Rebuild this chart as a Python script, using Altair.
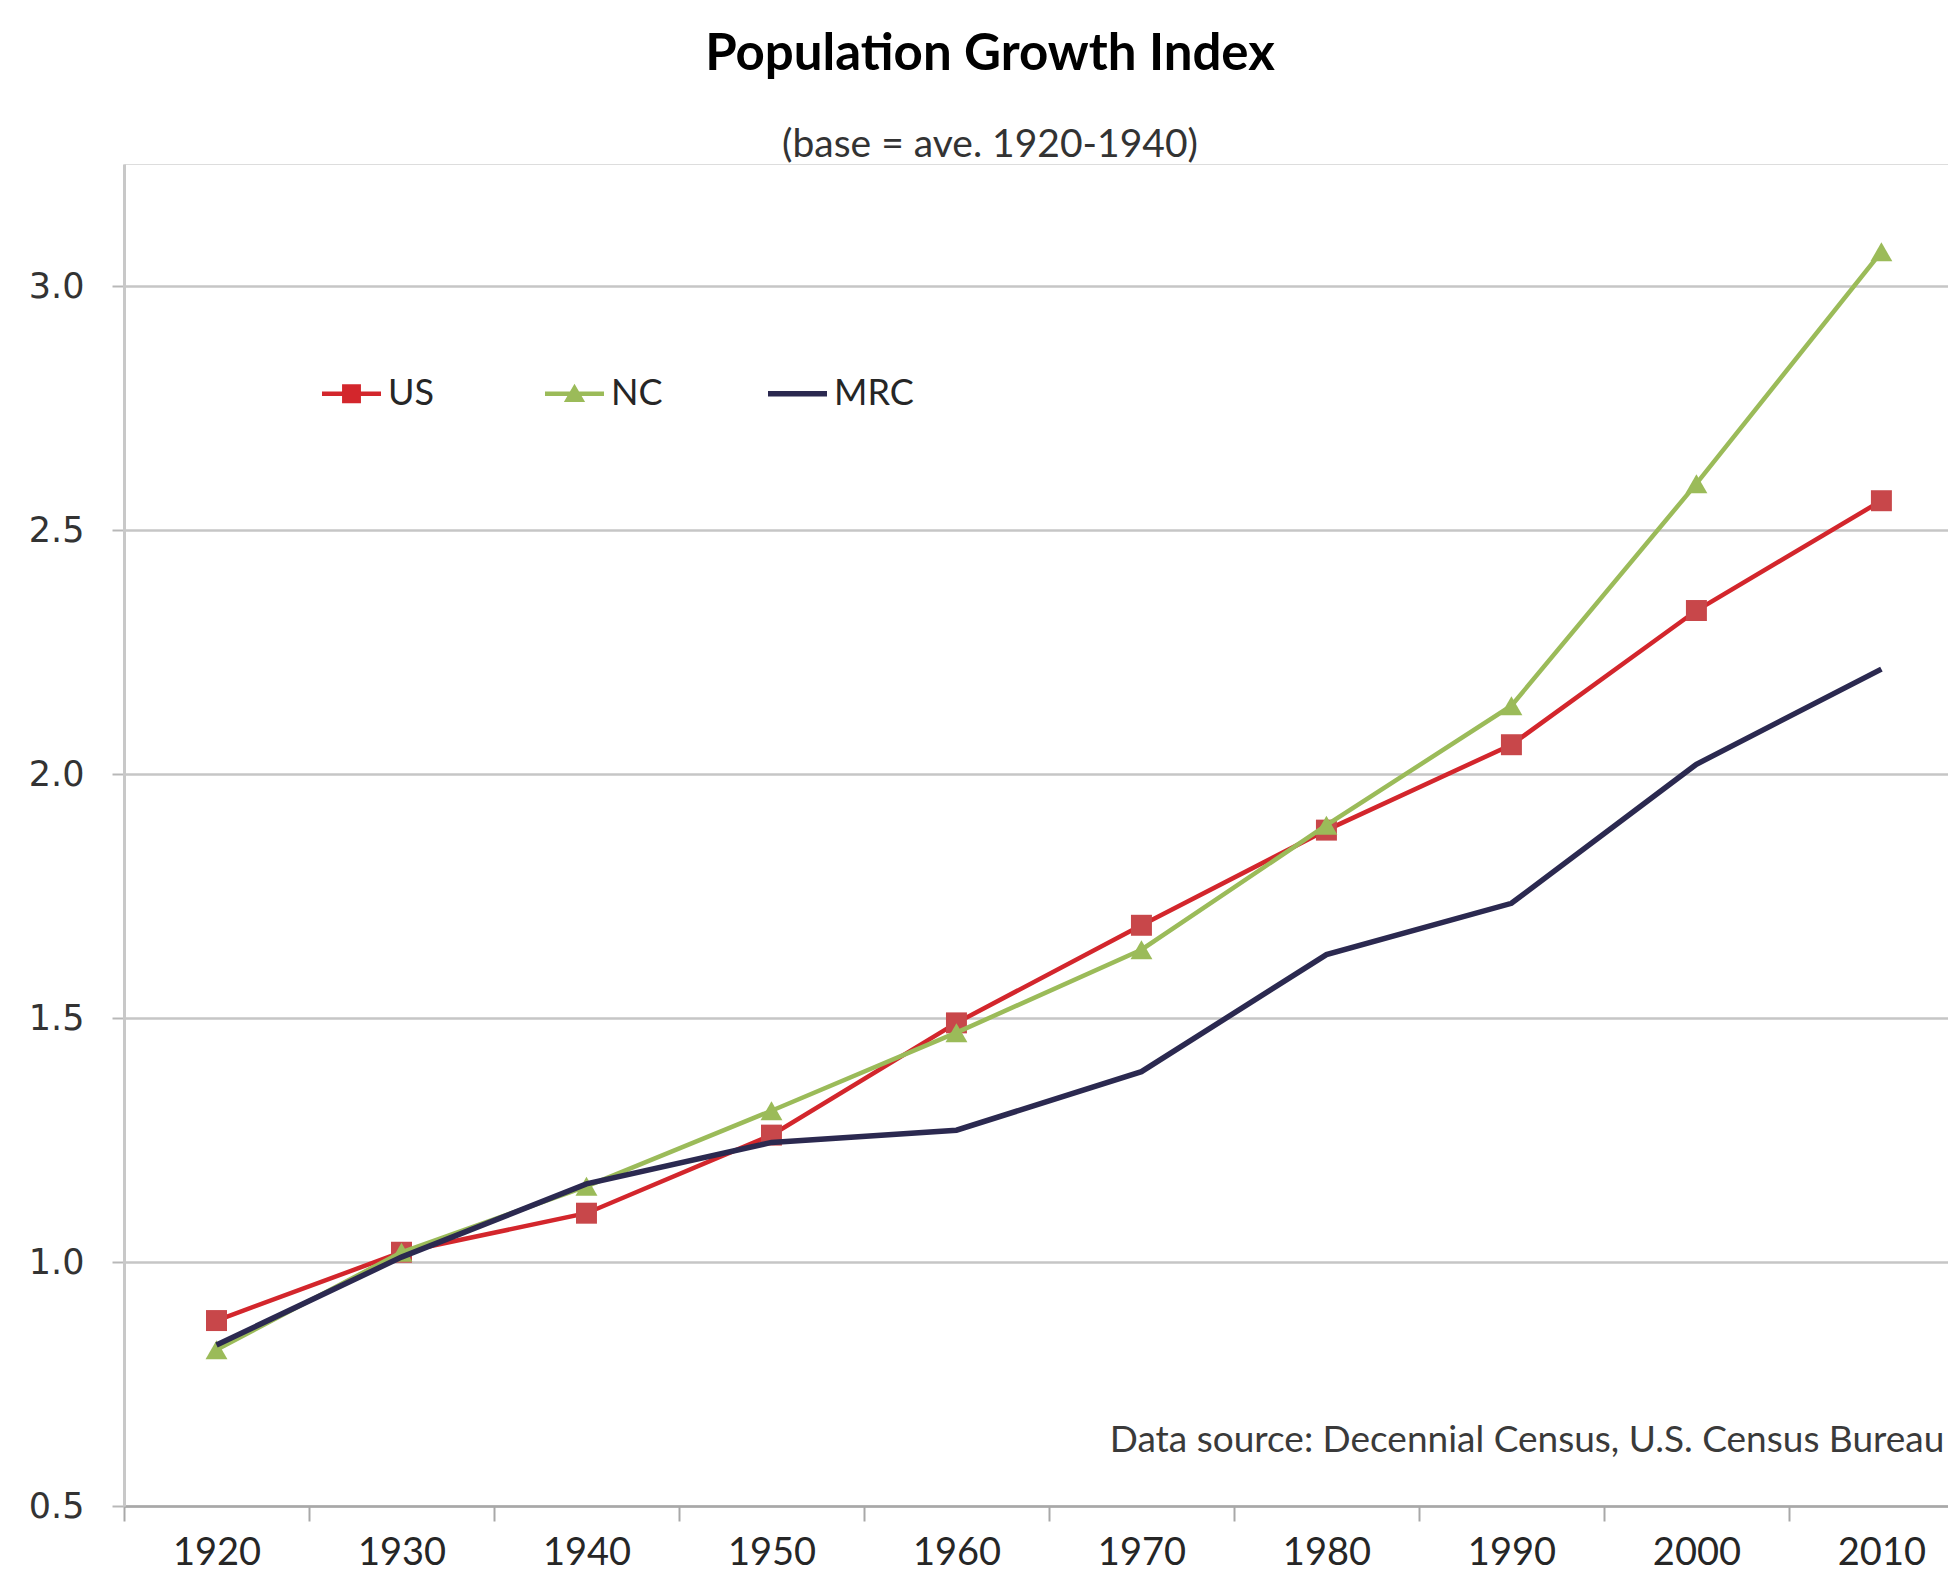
import altair as alt
import pandas as pd

years = [1920, 1930, 1940, 1950, 1960, 1970, 1980, 1990, 2000, 2010]
us = [0.88, 1.02, 1.10, 1.26, 1.49, 1.69, 1.885, 2.06, 2.335, 2.56]
nc = [0.82, 1.02, 1.155, 1.31, 1.47, 1.64, 1.895, 2.14, 2.595, 3.07]
mrc = [0.83, 1.01, 1.16, 1.245, 1.27, 1.39, 1.63, 1.735, 2.02, 2.215]
series_names = ["US", "NC", "MRC"]
line_colors = ["#D3262C", "#9BBB59", "#2B2950"]
marker_colors = ["#C8474A", "#9BBB59"]
y_ticks = [0.5, 1.0, 1.5, 2.0, 2.5, 3.0]
source_note = ["Data source:  Decennial Census, U.S. Census Bureau"]

rows = []
for name, vals in zip(series_names, [us, nc, mrc]):
    for yr, v in zip(years, vals):
        rows.append({"year": yr, "value": v, "series": name})
df = pd.DataFrame(rows)

W, H = 1824, 1342
x_scale = alt.Scale(domain=[1915, 2013.6], nice=False, zero=False)
y_scale = alt.Scale(domain=[0.5, 3.25], nice=False, zero=False)
half_band = W / 98.6 * 5

x_enc = alt.X("year:Q", scale=x_scale, axis=alt.Axis(
    values=years, format="d", title=None, grid=False,
    tickOffset=-half_band, labelOffset=half_band,
    tickSize=15, tickColor="#a8a8a8", tickWidth=2,
    domainColor="#a8a8a8", domainWidth=2.5,
    labelFont="Lato", labelFontSize=38, labelColor="#262626", labelPadding=13))
y_enc = alt.Y("value:Q", scale=y_scale, axis=alt.Axis(
    values=y_ticks, format=".1f", title=None, grid=True,
    gridColor="#c6c6c6", gridWidth=2.5,
    tickSize=12, tickColor="#b8b8b8", tickWidth=2,
    domainColor="#c8c8c8", domainWidth=3,
    labelFont="DejaVu Sans", labelFontSize=35, labelColor="#333333", labelPadding=28))

base = alt.Chart(df)

def series_line(name, color, width):
    return base.transform_filter(alt.datum.series == name).mark_line(
        color=color, strokeWidth=width).encode(x=x_enc, y=y_enc)

us_line = series_line("US", line_colors[0], 4.5)
us_pts = base.transform_filter(alt.datum.series == "US").mark_point(
    shape="square", filled=True, size=440, color=marker_colors[0], opacity=1).encode(x=x_enc, y=y_enc)
nc_line = series_line("NC", line_colors[1], 4.5)
nc_pts = base.transform_filter(alt.datum.series == "NC").mark_point(
    shape="triangle-up", filled=True, size=480, color=marker_colors[1], opacity=1).encode(x=x_enc, y=y_enc)
mrc_line = series_line("MRC", line_colors[2], 5.5)

path_us = "M-1,-0.075H1V0.075H-1Z M-0.32,-0.32H0.32V0.32H-0.32Z"
path_nc = "M-1,-0.075H1V0.075H-1Z M0,-0.34L0.36,0.28H-0.36Z"
path_mrc = "M-1,-0.09H1V0.09H-1Z"

leg = alt.Legend(title=None, orient="none", legendX=198, legendY=200,
                 direction="horizontal", columns=3, symbolSize=3481,
                 symbolStrokeWidth=0, symbolOpacity=1, labelFont="Lato",
                 labelFontSize=36, labelColor="#262626", labelOffset=7,
                 columnPadding=77, gridAlign="all", padding=0)
legend_layer = base.mark_point(filled=True, opacity=0, size=10).encode(
    x=x_enc, y=y_enc,
    color=alt.Color("series:N", scale=alt.Scale(domain=series_names, range=line_colors), legend=leg),
    shape=alt.Shape("series:N", scale=alt.Scale(domain=series_names, range=[path_us, path_nc, path_mrc]), legend=leg),
)

note = alt.Chart(pd.DataFrame({"year": [2013.4], "value": [0.633], "text": source_note})).mark_text(
    align="right", baseline="middle", font="Lato", fontSize=37, color="#3a3a3a"
).encode(x=x_enc, y=y_enc, text="text:N")

chart = alt.layer(legend_layer, us_line, us_pts, nc_line, nc_pts, mrc_line, note).properties(
    width=W, height=H,
    title=alt.Title("Population Growth Index", subtitle="(base = ave. 1920-1940)",
                    font="Lato", fontSize=51, fontWeight="bold", color="#000000",
                    subtitleFont="Lato", subtitleFontSize=39, subtitleColor="#333333",
                    anchor="middle", dx=-46, offset=-2, subtitlePadding=45),
    autosize=alt.AutoSizeParams(type="none"),
    padding={"left": 116, "top": 156, "right": 0, "bottom": 69},
).configure_view(stroke=None).configure(background="white")

chart.save("out.html", embed_options={"renderer": "svg", "actions": False})
